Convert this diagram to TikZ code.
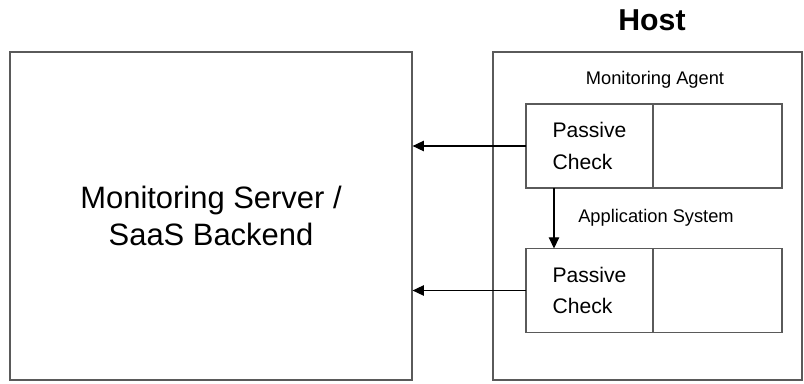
\documentclass[tikz,border=0pt]{standalone}
\usepackage{fontspec}
\setmainfont{Liberation Sans}
\usepackage{tikz}
\usetikzlibrary{positioning}
\usetikzlibrary{arrows.meta}
\definecolor{boxgray}{HTML}{5a5a5a}
\tikzset {
  x=0.025cm, y=-0.025cm,
  >={Triangle[length=0.28cm,width=0.26cm]},
  % outer boxes
  frame/.style = {draw=boxgray, line width=0.9pt, rectangle, inner sep=0pt},
  % the check boxes inside the agent
  check/.style = {draw=boxgray, line width=0.9pt, rectangle, inner sep=0pt, outer sep=0pt,
    minimum width=127*0.025cm, minimum height=84*0.025cm, align=left,
    font=\fontsize{15}{22.6}\selectfont},
  spare/.style = {check, minimum width=129*0.025cm},
  % connectors between the boxes
  flow/.style = {->, black, line width=0.8pt},
  caption/.style = {font=\fontsize{13}{15}\selectfont},
}

\begin{document}
\begin{tikzpicture}
      \useasboundingbox (0,0) rectangle (804,383);

      \node[frame, minimum width=402*0.025cm, minimum height=328*0.025cm,
        align=center, font=\fontsize{22}{26.8}\selectfont] (server) at (211, 216)
        {Monitoring Server /\\ SaaS Backend};
      \node[frame, minimum width=309*0.025cm, minimum height=328*0.025cm] (host) at (647.5, 216) {};

      \node[font=\fontsize{21.5}{24}\selectfont\bfseries] (hostlabel) at (652, 20) {Host};
      \node[caption] (agent) at (655, 80) {Monitoring Agent};

      \node[check] (check1) at (589.5, 146) {Passive\\Check};
      \node[spare, right=0pt of check1] (slot1) {};
      \node[check] (check2) at (589.5, 290.5) {Passive\\Check};
      \node[spare, right=0pt of check2] (slot2) {};

      \node[caption] (appsys) at (656, 218) {Application System};

      \draw [flow] (check1.west) -- (check1.west -| server.east);
      \draw [flow] (check2.west) -- (check2.west -| server.east);
      \draw [flow] ([xshift=28*0.025cm]check1.south west) -- ([xshift=28*0.025cm]check2.north west);
    \end{tikzpicture}
\end{document}
